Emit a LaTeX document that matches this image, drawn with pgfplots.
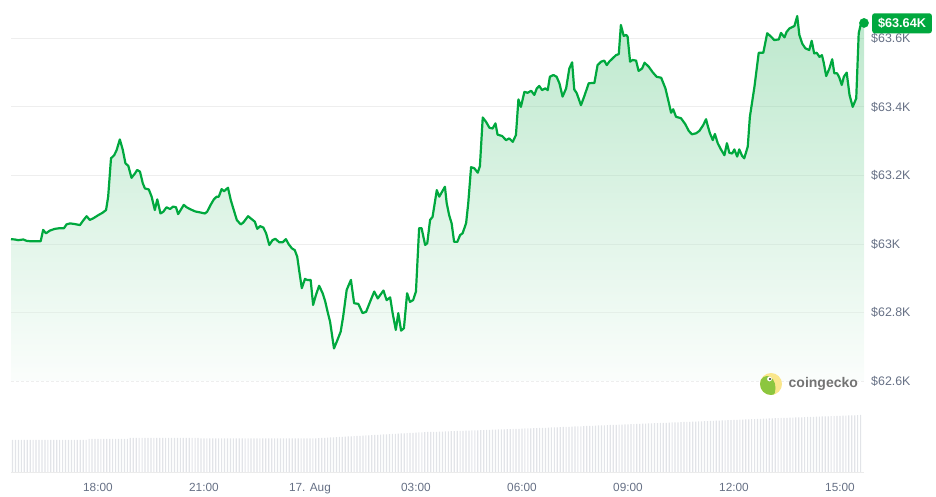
\documentclass[border=0pt]{standalone}
\usepackage{pgfplots}
\usepackage{pgfplotstable}
\pgfplotsset{compat=1.18}
\usepackage{fontspec}
\setmainfont{Liberation Sans}

\definecolor{cgreen}{RGB}{0,168,62}
\definecolor{cgray}{RGB}{102,112,133}
\definecolor{gridc}{RGB}{238,238,238}
\definecolor{volc}{RGB}{226,228,232}
\definecolor{cyellow}{RGB}{250,230,140}
\definecolor{clime}{RGB}{140,198,63}

% BTC price, hours from 16 Aug 00:00
\pgfplotstableread{
h v
15.54 63014
15.65 63013
15.74 63011
15.89 63013
15.98 63009
16.08 63008
16.26 63008
16.38 63008
16.45 63041
16.53 63031
16.64 63039
16.78 63044
16.92 63046
17.04 63046
17.11 63057
17.21 63060
17.35 63058
17.49 63055
17.58 63068
17.68 63081
17.77 63070
17.87 63075
18.01 63084
18.13 63091
18.23 63099
18.29 63138
18.37 63250
18.46 63259
18.53 63274
18.62 63305
18.70 63276
18.78 63235
18.86 63228
18.95 63193
19.05 63206
19.11 63216
19.19 63211
19.27 63177
19.33 63162
19.44 63159
19.52 63138
19.61 63099
19.68 63130
19.77 63089
19.85 63094
19.94 63107
20.04 63102
20.13 63109
20.21 63107
20.27 63087
20.37 63104
20.43 63114
20.51 63107
20.62 63101
20.75 63095
20.89 63092
21.03 63089
21.09 63094
21.19 63114
21.28 63130
21.36 63138
21.42 63138
21.50 63160
21.57 63154
21.68 63164
21.76 63128
21.83 63104
21.93 63070
22.04 63057
22.11 63062
22.25 63081
22.38 63070
22.44 63065
22.51 63044
22.59 63052
22.68 63048
22.76 63031
22.85 62997
22.94 63011
23.02 63015
23.13 63005
23.23 63005
23.32 63014
23.40 62999
23.49 62987
23.57 62982
23.64 62963
23.70 62919
23.77 62871
23.86 62898
23.92 62895
24.02 62895
24.09 62822
24.17 62851
24.26 62878
24.36 62856
24.43 62833
24.50 62802
24.57 62773
24.68 62695
24.76 62715
24.87 62744
24.94 62788
25.04 62866
25.16 62895
25.25 62827
25.37 62825
25.49 62798
25.59 62802
25.72 62836
25.82 62861
25.92 62841
26.08 62864
26.17 62836
26.27 62844
26.34 62798
26.43 62749
26.50 62798
26.58 62747
26.66 62754
26.75 62856
26.83 62831
26.92 62836
27.00 62861
27.09 63046
27.16 63046
27.26 62997
27.32 63002
27.40 63070
27.47 63079
27.59 63157
27.66 63138
27.82 63167
27.87 63119
27.94 63084
28.01 63060
28.08 63006
28.17 63006
28.25 63026
28.32 63031
28.42 63061
28.48 63119
28.56 63224
28.65 63221
28.75 63208
28.81 63227
28.89 63369
28.98 63357
29.08 63339
29.17 63337
29.25 63352
29.31 63319
29.44 63315
29.55 63303
29.64 63308
29.74 63298
29.83 63318
29.90 63422
29.97 63400
30.07 63444
30.16 63441
30.26 63447
30.35 63435
30.42 63454
30.49 63461
30.57 63449
30.66 63454
30.73 63449
30.79 63488
30.89 63493
30.98 63488
31.06 63469
31.15 63430
31.25 63454
31.34 63512
31.42 63530
31.48 63451
31.55 63440
31.67 63405
31.76 63430
31.89 63469
32.05 63470
32.14 63522
32.24 63532
32.33 63535
32.40 63522
32.47 63532
32.57 63542
32.66 63551
32.74 63554
32.80 63639
32.88 63607
32.95 63610
32.99 63605
33.06 63532
33.13 63537
33.23 63535
33.30 63505
33.40 63512
33.47 63529
33.59 63517
33.70 63501
33.81 63488
33.94 63485
34.06 63454
34.15 63415
34.22 63383
34.28 63393
34.36 63371
34.50 63367
34.62 63350
34.72 63330
34.81 63320
34.93 63323
35.02 63330
35.13 63347
35.21 63364
35.26 63344
35.32 63323
35.40 63303
35.46 63321
35.54 63294
35.63 63276
35.73 63259
35.80 63294
35.87 63266
35.95 63264
36.01 63276
36.09 63255
36.15 63276
36.23 63257
36.29 63250
36.39 63284
36.45 63371
36.58 63459
36.70 63558
36.83 63558
36.94 63615
37.05 63605
37.14 63595
37.27 63597
37.33 63616
37.43 63603
37.49 63619
37.57 63629
37.71 63636
37.79 63665
37.85 63610
37.93 63585
38.02 63571
38.13 63566
38.20 63593
38.27 63556
38.34 63558
38.42 63546
38.49 63551
38.54 63529
38.61 63490
38.70 63512
38.78 63539
38.84 63498
38.92 63498
38.98 63486
39.05 63464
39.11 63488
39.19 63500
39.27 63435
39.36 63400
39.46 63425
39.53 63615
39.60 63646
39.68 63645
}\price

% volume, one bar per 5 min slot from 15:35, twelve slots per line
\pgfplotstableread[row sep=\\]{
vol\\
32\\32\\32\\32\\32\\32\\32\\32\\32\\32\\32\\32\\
32\\32\\32\\32\\32\\32\\32\\32\\32\\32\\32\\32\\
32\\32\\33\\33\\33\\33\\33\\33\\33\\33\\33\\33\\
33\\33\\33\\33\\34\\34\\34\\34\\34\\34\\34\\34\\
34\\34\\34\\34\\34\\34\\34\\34\\34\\34\\34\\34\\
34\\34\\34\\34\\33.5\\33.5\\33.5\\33.5\\33.5\\33.5\\33.5\\33.5\\
33.5\\33.5\\33.5\\33.5\\33.5\\33.5\\33.5\\33.5\\33.5\\33.5\\33.5\\33.5\\
33.5\\33.5\\33.5\\33.5\\33.5\\33.5\\33.5\\33.5\\33.5\\33.5\\33.5\\33.5\\
33.5\\33.5\\33.5\\33.5\\33.5\\33.5\\33.5\\33.7\\33.8\\34.0\\34.2\\34.3\\
34.5\\34.7\\34.8\\35.0\\35.2\\35.3\\35.5\\35.7\\35.8\\36.0\\36.2\\36.3\\
36.5\\36.7\\36.8\\37.0\\37.2\\37.3\\37.5\\37.7\\37.8\\38.0\\38.2\\38.3\\
38.5\\38.7\\38.8\\39.0\\39.2\\39.3\\39.5\\39.7\\39.8\\40.0\\40.1\\40.2\\
40.2\\40.3\\40.4\\40.5\\40.6\\40.8\\40.9\\41.0\\41.1\\41.2\\41.3\\41.4\\
41.5\\41.6\\41.7\\41.8\\41.9\\42.1\\42.2\\42.3\\42.4\\42.5\\42.6\\42.7\\
42.8\\42.9\\43.0\\43.1\\43.2\\43.4\\43.5\\43.6\\43.7\\43.8\\43.9\\44.0\\
44.1\\44.2\\44.4\\44.5\\44.6\\44.7\\44.9\\45.0\\45.1\\45.2\\45.3\\45.5\\
45.6\\45.7\\45.8\\46.0\\46.1\\46.2\\46.3\\46.5\\46.6\\46.7\\46.8\\47.0\\
47.1\\47.2\\47.3\\47.4\\47.6\\47.7\\47.8\\47.9\\48.1\\48.2\\48.3\\48.4\\
48.6\\48.7\\48.8\\48.9\\49.0\\49.1\\49.2\\49.4\\49.5\\49.6\\49.7\\49.8\\
50.0\\50.1\\50.2\\50.3\\50.4\\50.6\\50.7\\50.8\\50.9\\51.1\\51.2\\51.3\\
51.4\\51.5\\51.7\\51.8\\51.9\\52.0\\52.2\\52.3\\52.4\\52.5\\52.7\\52.8\\
52.9\\53.0\\53.1\\53.3\\53.4\\53.5\\53.6\\53.8\\53.9\\54.0\\54.1\\54.2\\
54.3\\54.4\\54.5\\54.6\\54.7\\54.9\\55.0\\55.1\\55.2\\55.3\\55.4\\55.5\\
55.6\\55.7\\55.8\\55.9\\56.0\\56.2\\56.3\\56.4\\56.5\\56.6\\56.7\\56.8\\
57.0\\
}\volume

\begin{document}
\begin{tikzpicture}[x=1pt,y=1pt]
\path[use as bounding box] (0,0) rectangle (936,497);

% price
\begin{axis}[
    at={(11pt,116pt)}, anchor=south west,
    scale only axis, width=853pt, height=381pt,
    xmin=15.54, xmax=39.68,
    ymin=62600, ymax=63712,
    enlargelimits=false,
    scaled ticks=false,
    clip=false,
    axis line style={draw=none},
    major tick length=0pt,
    xtick=\empty,
    ytick={62800,63000,63200,63400,63600},
    yticklabels={\$62.8K,\$63K,\$63.2K,\$63.4K,\$63.6K},
    extra y ticks={62600},
    extra y tick labels={\$62.6K},
    extra y tick style={grid style={gridc, dash pattern=on 3pt off 2pt}},
    yticklabel pos=right,
    yticklabel style={anchor=base west, inner sep=0pt, xshift=7pt, yshift=-4.4pt,
        text=cgray, font=\fontsize{12.4}{14}\selectfont},
    ymajorgrids,
    grid style={gridc, line width=0.8pt},
]
\addplot[draw=none, top color=cgreen!62, bottom color=cgreen!4, fill opacity=0.42]
    table[x=h, y=v] {\price}
    -- (axis cs:39.68,62600) -- (axis cs:15.54,62600) -- cycle;
\addplot[cgreen, line width=2.2pt, line join=round] table[x=h, y=v] {\price};
\addplot[only marks, mark=*, mark size=4.6pt, cgreen] coordinates {(39.68,63645)};
\end{axis}

% volume: x counts 5 min slots from 15:35
\begin{axis}[
    at={(11pt,25pt)}, anchor=south west,
    scale only axis, width=853pt, height=60pt,
    xmin=-0.52, xmax=289.16,
    ymin=0, ymax=60,
    enlargelimits=false,
    scaled ticks=false,
    axis line style={draw=none},
    major tick length=0pt,
    ytick=\empty,
    xtick={29,65,101,137,173,209,245,281},
    xticklabels={18:00,21:00,17. Aug,03:00,06:00,09:00,12:00,15:00},
    xticklabel style={anchor=base, yshift=-19.5pt, inner sep=0pt,
        text=cgray, font=\fontsize{11.8}{14}\selectfont},
]
\addplot[ybar, bar width=0.4, fill=volc, draw=none]
    table[x expr=\coordindex, y=vol] {\volume};
\end{axis}
\draw[black!8, line width=0.6pt] (11,25) -- (864,25);

% price badge
\node[fill=cgreen, rounded corners=2.5pt, text=white, inner sep=0pt,
      minimum width=59.7pt, minimum height=20pt,
      font=\bfseries\fontsize{12.7}{14}\selectfont] at (902,473.7) {\$63.64K};

% coingecko mark
\begin{scope}
\fill[cyellow] (771,113) circle (11);
\clip (771,113) circle (11);
\fill[clime] (767,109) ellipse (8.5 and 12);
\fill[white] (769.5,118) circle (2.4);
\fill[black!80] (770,118) circle (1.1);
\end{scope}
\node[anchor=base west, inner sep=0pt, text=black!55,
      font=\bfseries\fontsize{14}{16}\selectfont] at (788.5,109) {coingecko};
\end{tikzpicture}
\end{document}
